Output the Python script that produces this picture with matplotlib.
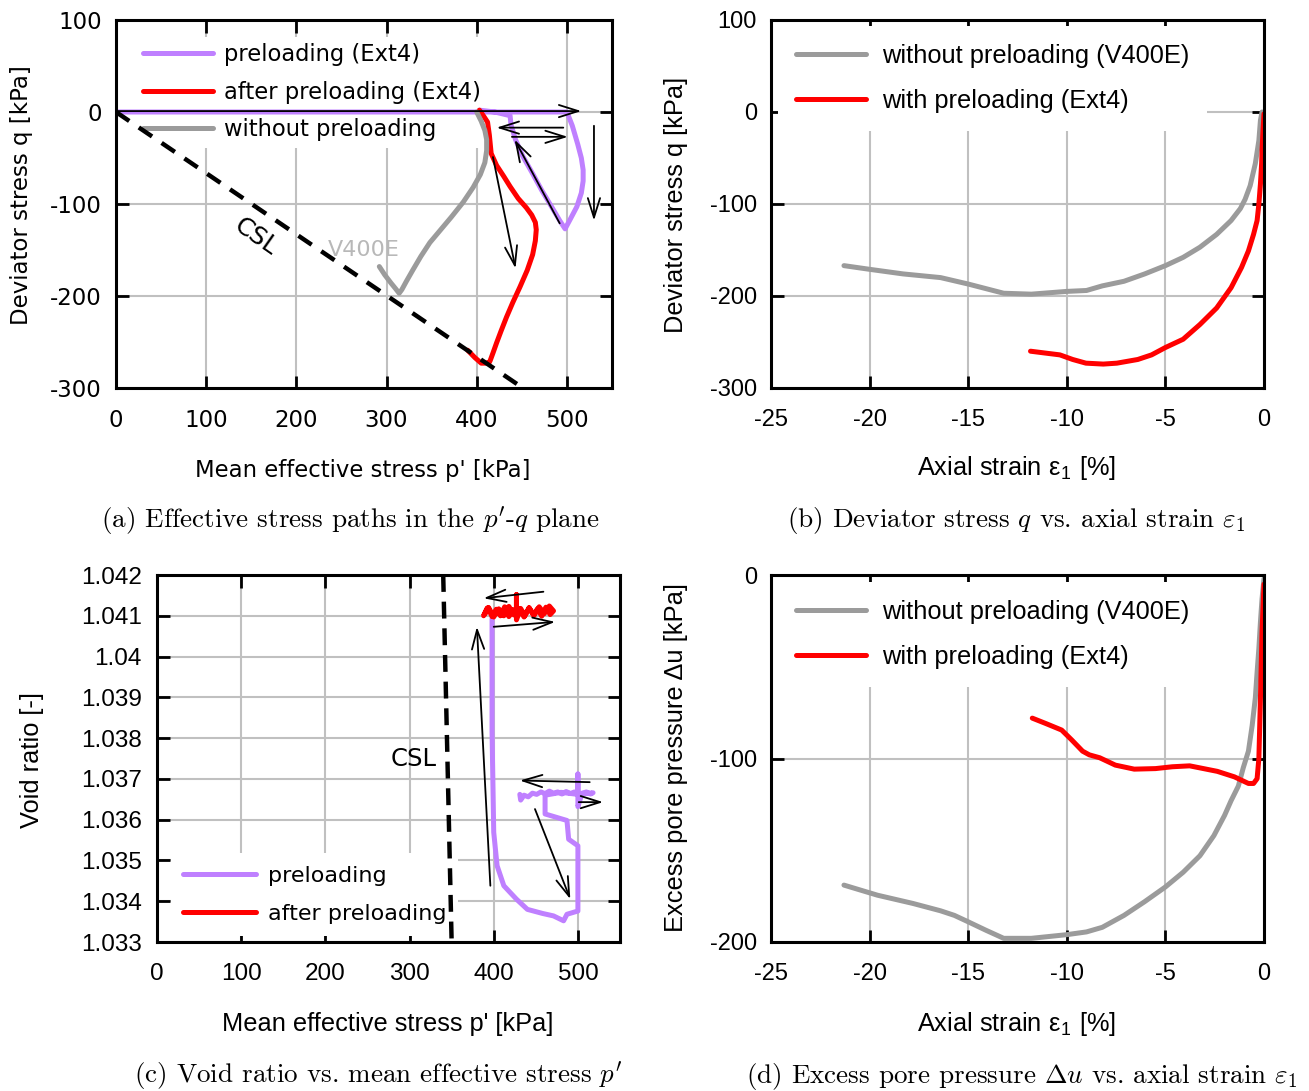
import matplotlib.pyplot as plt

plt.rcParams['axes.unicode_minus'] = False
plt.rcParams['mathtext.fontset'] = 'cm'

PURPLE = '#bf80ff'
RED = '#ff0000'
GRAY = '#9b9b9b'
GRID = '#c0c0c0'
VERD = 'DejaVu Sans'
ARIAL = 'Liberation Sans'
SERIF = 'cmr10'

# ---------------- data ----------------
# (a) p'-q plane
a_pre_p = [0, 100, 200, 300, 400, 500, 506, 512, 516, 518, 518, 516, 511, 504, 498,
           492, 483, 472, 462, 451, 443, 438, 437, 420, 403]
a_pre_q = [0, 0, 0, 0, 0, 0, -15, -35, -50, -63, -75, -88, -103, -116, -127,
           -118, -103, -85, -67, -48, -30, -14, -4, 0, 2]
a_after_p = [403, 408, 412, 414, 416, 422, 430, 437, 446, 455, 461, 465, 466, 465, 462, 456,
             448, 440, 433, 427, 422, 418, 415, 414, 410, 405, 398, 390]
a_after_q = [2, -5, -11, -25, -45, -58, -70, -81, -94, -104, -112, -120, -128, -140, -155, -172,
             -190, -207, -223, -238, -251, -262, -270, -272, -273, -273, -267, -259]
a_without_p = [400, 405, 409, 411, 411, 409, 404, 396, 385, 372, 360, 348, 338, 329, 322, 317,
               314, 310, 305, 298, 292]
a_without_q = [0, -10, -20, -30, -42, -55, -68, -82, -98, -114, -128, -142, -157, -172, -184, -193,
               -197, -192, -186, -177, -168]
csl_p = [0, 470]
csl_q = [0, -312.5]
# arrows (start p, start q, end p, end q)
a_arrows = [(0, 1, 516, 1), (530, -15, 530, -118), (492, -121, 442, -30),
            (496, -17, 422, -17), (439, -27, 501, -27), (418, -49, 443, -170)]

# (b) q vs axial strain
b_without_eps = [-21.3, -20.0, -18.3, -16.4, -15.0, -14.1, -13.2, -11.8, -10.0, -9.0, -8.2, -7.1,
                 -6.05, -5.0, -4.1, -3.25, -2.4, -1.67, -1.2, -0.96, -0.7, -0.44, -0.26, -0.18, -0.1]
b_without_q = [-167, -171, -176, -180, -187, -192, -197, -198, -195, -194, -189, -184,
               -176, -167, -158, -147, -133, -118, -105, -95, -80, -56, -31, -9, 0]
b_with_eps = [-11.84, -11.1, -10.35, -9.7, -9.03, -8.15, -7.46, -6.4, -5.7, -5.0, -4.1, -3.25,
              -2.4, -1.67, -1.14, -0.79, -0.53, -0.35, -0.26, -0.18, -0.12, -0.1, -0.05, 0.0]
b_with_q = [-260, -262, -264, -269, -273, -274, -273, -269, -264, -256, -247, -231,
            -213, -191, -169, -151, -133, -118, -100, -78, -56, -42, -20, -2]

# (c) void ratio vs p'
c_pre_p = [431, 432, 436, 441, 446, 451, 456, 461, 466, 471, 476, 481, 486, 491, 496, 500, 500, 500,
           505, 510, 515, 518, 500, 480, 461, 461, 487, 489, 500, 500, 487, 483, 471, 458, 440,
           427, 412, 404, 400, 398, 398]
c_pre_e = [1.03662, 1.03648, 1.03660, 1.03656, 1.03665, 1.03662, 1.03668, 1.03664, 1.03670, 1.03665,
           1.03668, 1.03663, 1.03669, 1.03664, 1.03668, 1.03666, 1.03712, 1.03632,
           1.03665, 1.03668, 1.03663, 1.03666, 1.03662, 1.03667, 1.03660, 1.03614, 1.03598, 1.03552,
           1.03536, 1.03376, 1.03368, 1.03352, 1.03364, 1.03370, 1.03380,
           1.03405, 1.03438, 1.03487, 1.03569, 1.03815, 1.04093]
c_after_p = [398, 392, 388, 393, 398, 403, 408, 413, 418, 423, 427, 427, 427, 432, 437, 442, 447, 452,
             457, 462, 467, 471, 466, 460, 454, 448, 442, 436, 430, 424, 418, 412, 406, 400, 394, 390]
c_after_e = [1.04105, 1.04118, 1.04100, 1.04120, 1.04098, 1.04116, 1.04100, 1.04122, 1.04098, 1.04115,
             1.04104, 1.04152, 1.04090, 1.04118, 1.04100, 1.04120, 1.04102, 1.04117, 1.04099, 1.04121,
             1.04103, 1.04112, 1.04124, 1.04105, 1.04122, 1.04101, 1.04119, 1.04097, 1.04118, 1.04102,
             1.04123, 1.04100, 1.04117, 1.04097, 1.04120, 1.04106]
c_csl_p = [340, 350]
c_csl_e = [1.042, 1.033]
c_arrows = [(459, 1.04159, 388, 1.04143), (400, 1.04073, 473, 1.04085), (396, 1.03438, 380, 1.04073),
            (514, 1.03692, 431, 1.03696), (501, 1.03643, 530, 1.03643), (449, 1.03626, 491, 1.03405)]

# (d) excess pore pressure vs axial strain
d_without_eps = [-21.3, -19.6, -17.8, -16.4, -15.7, -15.0, -14.1, -13.2, -11.8, -10.0, -9.0, -8.2,
                 -7.1, -6.05, -5.0, -4.1, -3.25, -2.54, -2.0, -1.67, -1.3, -1.05, -0.79, -0.6,
                 -0.44, -0.35, -0.26, -0.18, -0.1, 0.0]
d_without_u = [-169, -174.5, -179, -183, -185.5, -189, -193.6, -198, -198, -196, -194.5, -192,
               -185.5, -178, -170, -162, -153, -142, -131, -123, -115, -105, -96, -82,
               -67, -53, -40, -25.5, -13, -2]
d_with_eps = [-11.75, -11.05, -10.26, -9.74, -9.2, -8.86, -8.33, -7.54, -6.58, -5.5, -4.65, -3.77,
              -3.07, -2.37, -1.5, -0.79, -0.53, -0.35, -0.26, -0.18, -0.1, 0.0]
d_with_u = [-78, -81, -84.5, -90, -96, -98, -99.6, -103.6, -105.8, -105.5, -104.5, -104,
            -105.5, -107, -110, -113.6, -113.6, -111, -100, -67, -31, -5]

a_xticks = [0, 100, 200, 300, 400, 500]
a_yticks = [-300, -200, -100, 0, 100]
b_xticks = [-25, -20, -15, -10, -5, 0]
b_yticks = [-300, -200, -100, 0, 100]
c_yticks = [1.033, 1.034, 1.035, 1.036, 1.037, 1.038, 1.039, 1.04, 1.041, 1.042]
c_ylabels = ['1.033', '1.034', '1.035', '1.036', '1.037', '1.038', '1.039', '1.04', '1.041', '1.042']
d_yticks = [-200, -100, 0]

# ---------------- figure ----------------
W, H = 1309, 1091
fig = plt.figure(figsize=(W / 100, H / 100), dpi=100)


def add_ax(l, t, r, b):
    return fig.add_axes([l / W, 1 - b / H, (r - l) / W, (b - t) / H])


def style(ax, xt, yt, font, size, ylabels=None, xpad=15, ypad=10):
    ax.set_axisbelow(True)
    ax.grid(True, color=GRID, lw=1.5)
    ax.set_xticks(xt, labels=[str(v) for v in xt], fontfamily=font, fontsize=size)
    ax.set_yticks(yt, labels=ylabels if ylabels else [str(v) for v in yt], fontfamily=font, fontsize=size)
    ax.tick_params(direction='in', length=9, width=2, top=True, right=True)
    ax.tick_params(axis='x', pad=xpad)
    ax.tick_params(axis='y', pad=ypad)
    for s in ax.spines.values():
        s.set_linewidth(2.2)


def legend(ax, loc, anchor, font, size, hl, htp, ls, bp):
    leg = ax.legend(loc=loc, bbox_to_anchor=anchor, borderaxespad=0, frameon=True,
                    fancybox=False, edgecolor='none', facecolor='white', framealpha=1,
                    prop={'family': font, 'size': size}, handlelength=hl, handletextpad=htp,
                    labelspacing=ls, borderpad=bp)
    leg.set_zorder(1)


def arrow(ax, x0, y0, x1, y1):
    ax.annotate('', xy=(x1, y1), xytext=(x0, y0),
                arrowprops=dict(arrowstyle='->,head_length=0.7,head_width=0.22', lw=1.3,
                                color='black', mutation_scale=20, shrinkA=0, shrinkB=0),
                zorder=5)


def ftext(x, y, s, font, size, rot=0):
    fig.text(x / W, 1 - y / H, s, fontfamily=font, fontsize=size, rotation=rot,
             ha='center', va='center')


LW = 3.6
CAP = 19.5

# (a)
ax = add_ax(116, 20, 612, 388)
ax.plot(a_pre_p, a_pre_q, color=PURPLE, lw=LW, label='preloading (Ext4)', solid_capstyle='round')
ax.plot(a_after_p, a_after_q, color=RED, lw=LW, label='after preloading (Ext4)', solid_capstyle='round')
ax.plot(a_without_p, a_without_q, color=GRAY, lw=LW, label='without preloading', solid_capstyle='round')
ax.plot(csl_p, csl_q, color='black', lw=3.2, ls=(0, (3.6, 2.6)), zorder=3)
for a in a_arrows:
    arrow(ax, *a)
ax.text(155, -136, 'CSL', rotation=-35, fontsize=18, fontfamily=VERD, ha='center', va='center')
ax.text(275, -150, 'V400E', color='#b8b8b8', fontsize=16, fontfamily=VERD, ha='center', va='center')
ax.set_xlim(0, 550)
ax.set_ylim(-300, 100)
style(ax, a_xticks, a_yticks, VERD, 16.5)
legend(ax, 'upper left', (0.04, 0.955), VERD, 16.3, 3.1, 0.5, 0.63, 0.3)
ftext(22, 195, 'Deviator stress q [kPa]', VERD, 16.5, 90)
ftext(363, 470, "Mean effective stress p' [kPa]", VERD, 16.4)
ftext(350, 521, "(a) Effective stress paths in the $p'$-$q$ plane", SERIF, CAP)

# (b)
ax = add_ax(771, 20, 1264, 388)
ax.plot(b_without_eps, b_without_q, color=GRAY, lw=LW, label='without preloading (V400E)', solid_capstyle='round')
ax.plot(b_with_eps, b_with_q, color=RED, lw=LW, label='with preloading (Ext4)', solid_capstyle='round')
ax.set_xlim(-25, 0)
ax.set_ylim(-300, 100)
style(ax, b_xticks, b_yticks, ARIAL, 17)
legend(ax, 'upper left', (0.015, 0.984), ARIAL, 18.3, 2.75, 0.63, 0.84, 0.7)
ftext(676, 205, 'Deviator stress q [kPa]', ARIAL, 18.3, 90)
ftext(1017, 468, r'Axial strain ε$_\mathregular{1}$ [%]', ARIAL, 18.3)
ftext(1016, 521, r'(b) Deviator stress $q$ vs. axial strain $\varepsilon_1$', SERIF, CAP)

# (c)
ax = add_ax(157, 575, 620, 942)
ax.plot(c_pre_p, c_pre_e, color=PURPLE, lw=LW, label='preloading', solid_capstyle='round')
ax.plot(c_after_p, c_after_e, color=RED, lw=LW, label='after preloading', solid_capstyle='round')
ax.plot(c_csl_p, c_csl_e, color='black', lw=3.2, ls=(0, (3.8, 2.2)), zorder=6)
for a in c_arrows:
    arrow(ax, *a)
ax.text(305, 1.03749, 'CSL', fontsize=17.5, fontfamily=VERD, ha='center', va='center')
ax.set_xlim(0, 550)
ax.set_ylim(1.033, 1.042)
style(ax, a_xticks, c_yticks, ARIAL, 17.5, ylabels=c_ylabels, ypad=11)
legend(ax, 'lower left', (0.03, 0.016), VERD, 16, 3.3, 0.5, 0.82, 0.55)
ftext(32, 760, 'Void ratio [-]', ARIAL, 18.3, 90)
ftext(388, 1024, "Mean effective stress p' [kPa]", ARIAL, 18.3)
ftext(378, 1076, r"(c) Void ratio vs. mean effective stress $p'$", SERIF, CAP)

# (d)
ax = add_ax(771, 575, 1264, 942)
ax.plot(d_without_eps, d_without_u, color=GRAY, lw=LW, label='without preloading (V400E)', solid_capstyle='round')
ax.plot(d_with_eps, d_with_u, color=RED, lw=LW, label='with preloading (Ext4)', solid_capstyle='round')
ax.set_xlim(-25, 0)
ax.set_ylim(-200, 0)
style(ax, b_xticks, d_yticks, ARIAL, 17)
legend(ax, 'upper left', (0.015, 0.981), ARIAL, 18.3, 2.75, 0.63, 0.84, 0.7)
ftext(676, 757, 'Excess pore pressure Δu [kPa]', ARIAL, 18.4, 90)
ftext(1017, 1024, r'Axial strain ε$_\mathregular{1}$ [%]', ARIAL, 18.3)
ftext(1022, 1076, r'(d) Excess pore pressure $\Delta u$ vs. axial strain $\varepsilon_1$', SERIF, CAP)

fig.savefig('out.png', dpi=100)
